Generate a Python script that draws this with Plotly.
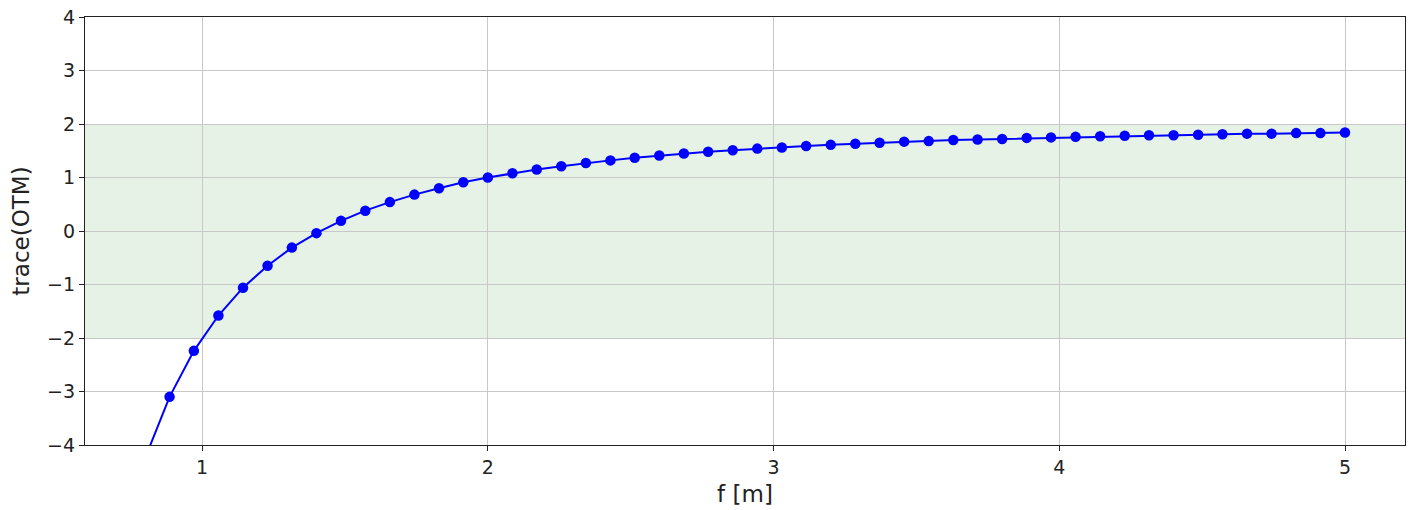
import plotly.graph_objects as go

f_vals = [0.800, 0.886, 0.971, 1.057, 1.143, 1.229, 1.314, 1.400, 1.486, 1.571,
          1.657, 1.743, 1.829, 1.914, 2.000, 2.086, 2.171, 2.257, 2.343, 2.429,
          2.514, 2.600, 2.686, 2.771, 2.857, 2.943, 3.029, 3.114, 3.200, 3.286,
          3.371, 3.457, 3.543, 3.629, 3.714, 3.800, 3.886, 3.971, 4.057, 4.143,
          4.229, 4.314, 4.400, 4.486, 4.571, 4.657, 4.743, 4.829, 4.914, 5.000]
trace_vals = [-4.25, -3.10, -2.24, -1.58, -1.06, -0.65, -0.31, -0.04, 0.19, 0.38,
              0.54, 0.68, 0.80, 0.91, 1.00, 1.08, 1.15, 1.21, 1.27, 1.32,
              1.37, 1.41, 1.45, 1.48, 1.51, 1.54, 1.56, 1.59, 1.61, 1.63,
              1.65, 1.67, 1.68, 1.70, 1.71, 1.72, 1.74, 1.75, 1.76, 1.77,
              1.78, 1.79, 1.79, 1.80, 1.81, 1.82, 1.82, 1.83, 1.83, 1.84]
stable_band = [-2, 2]

fig = go.Figure()
fig.add_shape(type="rect", xref="paper", yref="y", x0=0, x1=1,
              y0=stable_band[0], y1=stable_band[1],
              fillcolor="rgba(0,128,0,0.1)", line_width=0, layer="below")
fig.add_trace(go.Scatter(x=f_vals, y=trace_vals, mode="lines+markers",
                         line=dict(color="#0000ff", width=2),
                         marker=dict(color="#0000ff", size=10.5),
                         cliponaxis=True, showlegend=False))

axis_common = dict(showline=True, linecolor="#222", linewidth=1.2, mirror=True,
                   ticks="outside", ticklen=5, tickcolor="#222",
                   showgrid=True, gridcolor="#c8c8c8", gridwidth=1,
                   zeroline=False, tickfont=dict(size=19, color="#222"))
fig.update_layout(
    width=1411, height=510,
    margin=dict(l=85, r=6, t=17, b=65),
    plot_bgcolor="white", paper_bgcolor="white",
    font=dict(family="DejaVu Sans", size=19, color="#222"),
    xaxis=dict(range=[0.59, 5.21], tickvals=[1, 2, 3, 4, 5],
               title=dict(text="f [m]", standoff=8), **axis_common),
    yaxis=dict(range=[-4, 4], tickvals=[-4, -3, -2, -1, 0, 1, 2, 3, 4],
               ticktext=["\u22124", "\u22123", "\u22122", "\u22121", "0", "1", "2", "3", "4"],
               title=dict(text="trace(OTM)", standoff=11), **axis_common),
)
fig.write_html("out.html", config={"displayModeBar": False},
               post_script="document.body.style.margin='0';document.body.style.overflow='hidden';")
